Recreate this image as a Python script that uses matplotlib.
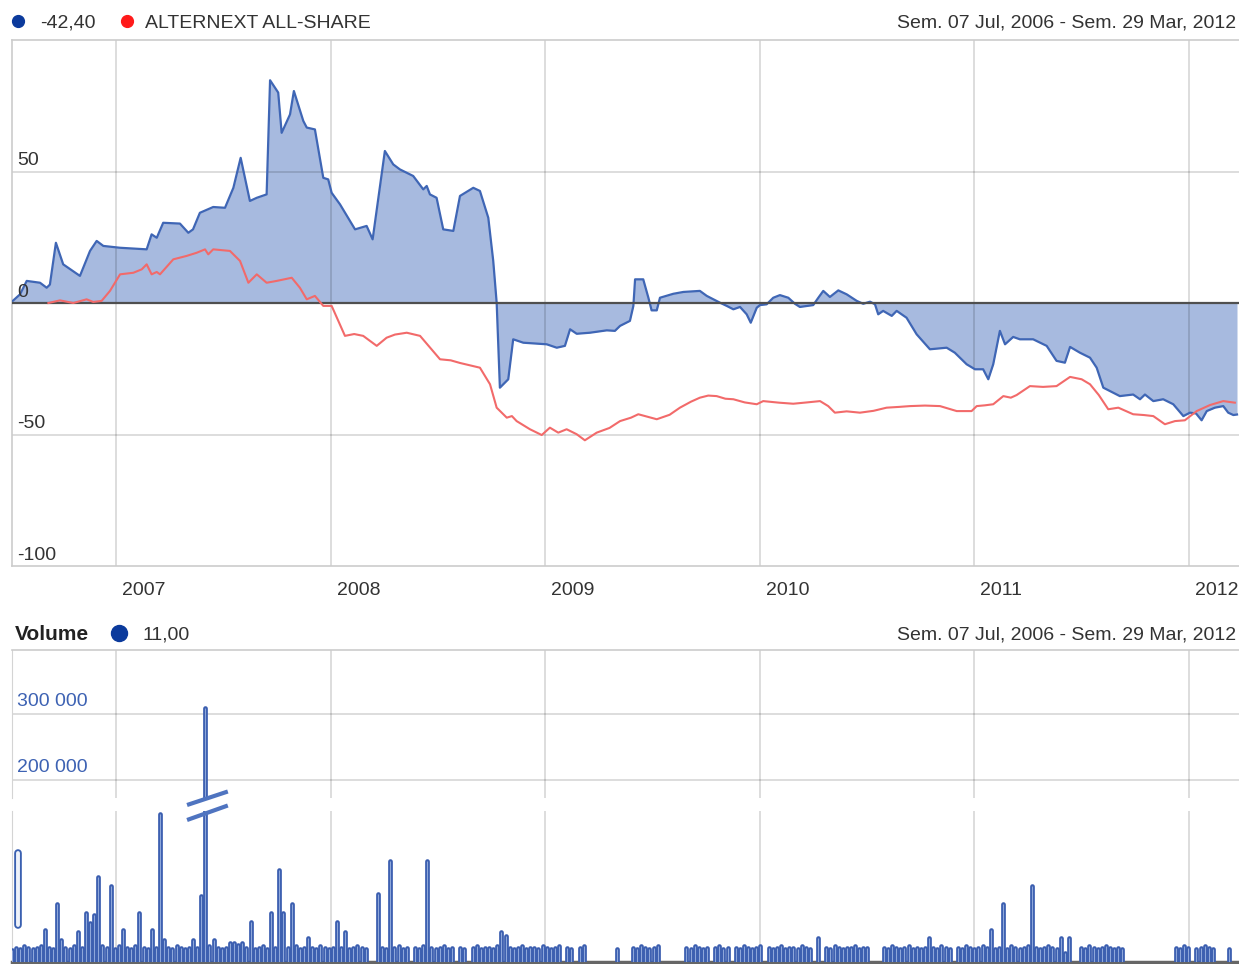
import numpy as np
import matplotlib.pyplot as plt
from matplotlib.lines import Line2D
from matplotlib.transforms import blended_transform_factory

plt.rcParams['font.family'] = ['Liberation Sans', 'DejaVu Sans']

# performance in % (x = decimal year)
blue_x = [2006.519, 2006.553, 2006.584, 2006.646, 2006.677, 2006.692, 2006.720, 2006.754,
          2006.832, 2006.879, 2006.910, 2006.941, 2007.019, 2007.143, 2007.166, 2007.190,
          2007.220, 2007.298, 2007.337, 2007.359, 2007.391, 2007.453, 2007.508, 2007.547,
          2007.581, 2007.624, 2007.656, 2007.702, 2007.718, 2007.756, 2007.772, 2007.811,
          2007.829, 2007.873, 2007.889, 2007.927, 2007.966, 2007.989, 2008.005, 2008.044,
          2008.114, 2008.168, 2008.196, 2008.253, 2008.292, 2008.323, 2008.385, 2008.432,
          2008.448, 2008.463, 2008.494, 2008.525, 2008.572, 2008.603, 2008.665, 2008.696,
          2008.735, 2008.758, 2008.774, 2008.789, 2008.828, 2008.851, 2008.898, 2009.007,
          2009.054, 2009.092, 2009.116, 2009.147, 2009.209, 2009.287, 2009.325, 2009.349,
          2009.395, 2009.411, 2009.419, 2009.457, 2009.481, 2009.496, 2009.520, 2009.535,
          2009.597, 2009.644, 2009.721, 2009.753, 2009.815, 2009.846, 2009.877, 2009.908,
          2009.939, 2009.958, 2009.986, 2010.001, 2010.032, 2010.063, 2010.094, 2010.133,
          2010.164, 2010.187, 2010.249, 2010.273, 2010.296, 2010.327, 2010.366, 2010.405,
          2010.452, 2010.482, 2010.514, 2010.537, 2010.552, 2010.575, 2010.615, 2010.638,
          2010.684, 2010.731, 2010.793, 2010.871, 2010.909, 2010.964, 2011.003, 2011.041,
          2011.065, 2011.088, 2011.119, 2011.143, 2011.181, 2011.212, 2011.274, 2011.337,
          2011.383, 2011.422, 2011.446, 2011.492, 2011.539, 2011.570, 2011.601, 2011.678,
          2011.740, 2011.772, 2011.795, 2011.834, 2011.880, 2011.927, 2011.974, 2012.005,
          2012.033, 2012.059, 2012.083, 2012.121, 2012.160, 2012.183, 2012.207, 2012.224]
blue_y = [0.8, 3.3, 8.4, 7.7, 5.8, 7.0, 22.9, 14.7,
          10.3, 19.8, 23.6, 21.7, 21.0, 20.4, 26.1, 24.8,
          30.5, 30.2, 26.7, 28.0, 34.3, 36.5, 36.2, 43.8,
          55.2, 38.8, 40.0, 41.3, 84.7, 80.0, 64.7, 71.7,
          80.6, 69.2, 66.7, 66.0, 47.6, 47.0, 41.9, 37.5,
          28.0, 29.3, 24.2, 57.8, 52.7, 50.8, 48.3, 43.2,
          44.5, 41.3, 40.0, 28.0, 27.4, 40.7, 43.8, 42.6,
          32.4, 16.0, 0.1, -32.2, -29.0, -13.8, -15.1, -15.7,
          -17.0, -16.3, -10.0, -11.7, -11.3, -10.4, -10.6, -8.7,
          -6.8, -1.1, 9.0, 9.0, 2.0, -2.8, -2.8, 2.0,
          3.5, 4.2, 4.6, 2.7, 0.1, -1.1, -2.4, -1.5,
          -4.3, -7.5, -1.8, -0.8, -0.5, 2.0, 3.0, 2.0,
          -0.3, -1.5, -0.8, 2.0, 4.6, 2.3, 4.8, 3.3,
          0.8, -0.3, 0.5, -0.5, -4.3, -3.0, -4.9, -3.0,
          -5.6, -11.9, -17.6, -17.0, -18.9, -23.3, -25.2, -25.2,
          -29.0, -23.3, -10.6, -15.7, -12.9, -13.8, -13.8, -16.3,
          -22.0, -22.7, -16.7, -18.9, -20.8, -24.6, -32.2, -35.4,
          -34.8, -36.6, -34.8, -37.3, -36.6, -38.5, -43.0, -41.7,
          -42.0, -44.6, -41.1, -39.8, -39.2, -41.7, -42.6, -42.4]

red_x = [2006.685, 2006.739, 2006.801, 2006.863, 2006.894, 2006.933, 2006.972, 2007.019,
         2007.081, 2007.120, 2007.143, 2007.166, 2007.190, 2007.205, 2007.267, 2007.329,
         2007.376, 2007.415, 2007.430, 2007.453, 2007.531, 2007.578, 2007.617, 2007.656,
         2007.702, 2007.749, 2007.819, 2007.857, 2007.889, 2007.927, 2007.966, 2008.005,
         2008.067, 2008.110, 2008.152, 2008.215, 2008.261, 2008.300, 2008.355, 2008.417,
         2008.510, 2008.560, 2008.603, 2008.696, 2008.743, 2008.774, 2008.821, 2008.845,
         2008.867, 2008.929, 2008.984, 2009.022, 2009.061, 2009.100, 2009.147, 2009.185,
         2009.240, 2009.300, 2009.349, 2009.400, 2009.434, 2009.520, 2009.580, 2009.628,
         2009.680, 2009.721, 2009.760, 2009.799, 2009.840, 2009.877, 2009.930, 2009.986,
         2010.016, 2010.090, 2010.156, 2010.220, 2010.281, 2010.319, 2010.350, 2010.405,
         2010.467, 2010.530, 2010.591, 2010.650, 2010.700, 2010.770, 2010.840, 2010.918,
         2010.987, 2011.011, 2011.050, 2011.088, 2011.135, 2011.170, 2011.197, 2011.259,
         2011.320, 2011.383, 2011.446, 2011.500, 2011.539, 2011.580, 2011.624, 2011.671,
         2011.740, 2011.790, 2011.834, 2011.888, 2011.935, 2011.981, 2012.036, 2012.098,
         2012.160, 2012.214]
red_y = [0.0, 1.0, 0.0, 1.4, 0.4, 0.8, 4.6, 10.9,
         11.5, 12.8, 14.7, 10.9, 11.8, 10.9, 16.6, 17.9,
         19.1, 20.4, 18.5, 20.4, 19.8, 16.0, 7.7, 10.9,
         7.7, 8.4, 9.6, 5.8, 1.4, 2.7, -1.1, -1.1,
         -12.5, -11.8, -12.5, -16.3, -13.2, -12.0, -11.3, -12.5,
         -21.4, -21.8, -22.8, -24.6, -30.9, -39.8, -43.6, -43.0,
         -44.9, -48.0, -50.2, -47.4, -49.3, -48.0, -49.9, -52.2,
         -49.3, -47.5, -44.9, -43.6, -42.3, -44.2, -42.5, -39.8,
         -37.5, -36.0, -35.2, -35.4, -36.4, -36.6, -37.8, -38.5,
         -37.3, -37.9, -38.3, -37.8, -37.3, -39.2, -41.7, -41.2,
         -41.7, -41.0, -39.8, -39.5, -39.2, -39.0, -39.2, -41.1,
         -41.1, -39.2, -38.9, -38.5, -35.4, -36.0, -35.0, -31.6,
         -31.9, -31.6, -28.1, -29.0, -30.9, -35.0, -40.4, -39.8,
         -42.3, -42.6, -43.0, -46.1, -44.9, -44.6, -41.1, -38.8,
         -37.3, -37.9]

# weekly volume in thousands, first week starting Fri 07 Jul 2006
vol_start = 2006.5154
vol_k = [8, 10, 9, 11, 10, 9, 10, 11, 22, 10,
         9, 40, 15, 10, 9, 11, 21, 10, 34, 27,
         33, 59, 11, 10, 53, 9, 11, 22, 10, 9,
         11, 34, 10, 9, 22, 10, 103, 15, 10, 9,
         11, 10, 9, 10, 15, 10, 46, 309, 11, 15,
         10, 9, 10, 13, 13, 12, 13, 10, 28, 9,
         10, 11, 9, 34, 10, 64, 34, 10, 40, 11,
         9, 10, 17, 10, 9, 11, 10, 9, 10, 28,
         10, 21, 9, 10, 11, 10, 9, 0, 0, 47,
         10, 9, 70, 10, 11, 9, 10, 0, 10, 9,
         11, 70, 10, 9, 10, 11, 9, 10, 0, 10,
         9, 0, 10, 11, 9, 10, 10, 9, 11, 21,
         18, 10, 9, 10, 11, 9, 10, 10, 9, 11,
         10, 9, 10, 11, 0, 10, 9, 0, 10, 11,
         0, 0, 0, 0, 0, 0, 0, 9, 0, 0,
         0, 10, 9, 11, 10, 9, 10, 11, 0, 0,
         0, 0, 0, 0, 10, 9, 11, 10, 9, 10,
         0, 10, 11, 9, 10, 0, 10, 9, 11, 10,
         9, 10, 11, 0, 10, 9, 10, 11, 9, 10,
         10, 9, 11, 10, 9, 0, 17, 0, 10, 9,
         11, 10, 9, 10, 10, 11, 9, 10, 10, 0,
         0, 0, 10, 9, 11, 10, 9, 10, 11, 9,
         10, 9, 10, 17, 10, 9, 11, 10, 9, 0,
         10, 9, 11, 10, 9, 10, 11, 10, 22, 9,
         10, 40, 9, 11, 10, 9, 10, 11, 53, 10,
         9, 10, 11, 10, 9, 17, 6, 17, 0, 0,
         10, 9, 11, 10, 9, 10, 11, 10, 9, 10,
         9, 0, 0, 0, 0, 0, 0, 0, 0, 0,
         0, 0, 0, 10, 9, 11, 10, 0, 9, 10,
         11, 10, 9, 0, 0, 0, 9, 0, 0]
oval_x = 2006.545
oval_lo, oval_hi = 26, 76

years = [2007, 2008, 2009, 2010, 2011, 2012]
price_ticks = [50, 0, -50, -100]
vol_ticks = [300000, 200000]
x_range = (2006.5154, 2012.2333)

W, H = 1239, 964
fig = plt.figure(figsize=(W / 100, H / 100), dpi=100)


def box(l, t, r, b):
    return [l / W, 1 - b / H, (r - l) / W, (b - t) / H]


ax = fig.add_axes(box(12, 40, 1239, 566))
axv = fig.add_axes(box(12, 650, 1239, 798))
axl = fig.add_axes(box(12, 811, 1239, 962))

txt = '#333333'
grid = dict(color='k', alpha=0.16, lw=1.2, zorder=1.5)

# ---- price panel
ax.set_xlim(*x_range)
ax.set_ylim(-100, 100)
ax.fill_between(blue_x, blue_y, 0, color='#a7badf', lw=0, zorder=1)
for yr in years:
    ax.axvline(yr, **grid)
for v in (50, -50):
    ax.axhline(v, **grid)
ax.plot(blue_x, blue_y, color='#3f66b5', lw=1.6, zorder=3)
ax.axhline(0, color='#4f4f4f', lw=1.6, zorder=3)
ax.plot(red_x, red_y, color='#f26a6a', lw=1.5, zorder=4)
ax.set_xticks([])
ax.set_yticks([])
for s in ('top', 'bottom', 'left'):
    ax.spines[s].set_color('#cccccc')
    ax.spines[s].set_linewidth(1.2)
ax.spines['right'].set_visible(False)

ty = blended_transform_factory(ax.transAxes, ax.transData)
for v in price_ticks:
    ax.annotate(str(v), xy=(0, v), xycoords=ty, xytext=(3.6, 4.5), textcoords='offset points',
                ha='left', va='baseline', fontsize=14, color=txt)
tx = blended_transform_factory(ax.transData, ax.transAxes)
for yr in years:
    ax.annotate(str(yr), xy=(yr, 0), xycoords=tx, xytext=(4.3, -21), textcoords='offset points',
                ha='left', va='baseline', fontsize=14, color=txt, annotation_clip=False)

# ---- volume panels (broken axis)
vol_x = vol_start + np.arange(len(vol_k)) * 7 / 365.25
vol = np.array(vol_k) * 1000.0
m = vol > 0
for a in (axv, axl):
    a.set_xlim(*x_range)
    for yr in years:
        a.axvline(yr, **grid)
    a.vlines(vol_x[m], 0, vol[m], color='#3a5daf', lw=3.4, capstyle='round', zorder=3)
    a.vlines(vol_x[m], 0, vol[m], color='#8ea7da', lw=0.8, zorder=4)
    a.set_xticks([])
    a.set_yticks([])
    for s in a.spines.values():
        s.set_visible(False)
    a.spines['left'].set_visible(True)
    a.spines['left'].set_color('#d4d4d4')

axv.set_ylim(172500, 397500)
axl.set_ylim(0, 105000)
axv.spines['top'].set_visible(True)
axv.spines['top'].set_color('#cccccc')
axv.spines['top'].set_linewidth(1.2)
axl.spines['bottom'].set_visible(True)
axl.spines['bottom'].set_color('#666666')
axl.spines['bottom'].set_linewidth(2.5)

axl.vlines([oval_x], oval_lo * 1000, oval_hi * 1000, color='#3a60b0', lw=5.5,
           capstyle='round', zorder=3)
axl.vlines([oval_x], oval_lo * 1000, oval_hi * 1000, color='#eef2fa', lw=2.8,
           capstyle='round', zorder=4)

tv = blended_transform_factory(axv.transAxes, axv.transData)
for v in vol_ticks:
    axv.axhline(v, **grid)
    axv.annotate(f'{v:,}'.replace(',', ' '), xy=(0, v), xycoords=tv, xytext=(3.6, 5.5),
                 textcoords='offset points', ha='left', va='baseline', fontsize=14,
                 color='#3d62b3')

# break marks on the tallest volume bar
big = int(np.argmax(vol))
tb = blended_transform_factory(axl.transData, fig.transFigure)
bx = vol_x[big]
for y0, y1 in ((805, 791.5), (820, 805.5)):
    fig.add_artist(Line2D([bx - 0.085, bx + 0.105], [1 - y0 / H, 1 - y1 / H], transform=tb,
                          color='#4f74c0', lw=3.0, solid_capstyle='butt'))

# ---- headers
ft = fig.transFigure
fig.add_artist(Line2D([18 / W], [1 - 21 / H], marker='o', ms=8.5, color='#0b3a9c', transform=ft))
fig.text(40 / W, 1 - 28 / H, '-42,40', fontsize=14, color=txt, va='baseline')
fig.add_artist(Line2D([127 / W], [1 - 21 / H], marker='o', ms=8.5, color='#ff1a1a', transform=ft))
fig.text(145 / W, 1 - 28 / H, 'ALTERNEXT ALL-SHARE', fontsize=14, color=txt, va='baseline')
fig.text(1236 / W, 1 - 28 / H, 'Sem. 07 Jul, 2006 - Sem. 29 Mar, 2012', fontsize=14,
         color=txt, va='baseline', ha='right')

fig.text(15 / W, 1 - 640 / H, 'Volume', fontsize=15, fontweight='bold', color='#222222',
         va='baseline')
fig.add_artist(Line2D([119 / W], [1 - 633 / H], marker='o', ms=11.5, color='#0b3a9c', transform=ft))
fig.text(143 / W, 1 - 640 / H, '11,00', fontsize=14, color=txt, va='baseline')
fig.text(1236 / W, 1 - 640 / H, 'Sem. 07 Jul, 2006 - Sem. 29 Mar, 2012', fontsize=14,
         color=txt, va='baseline', ha='right')

fig.savefig('out.png', dpi=100)
